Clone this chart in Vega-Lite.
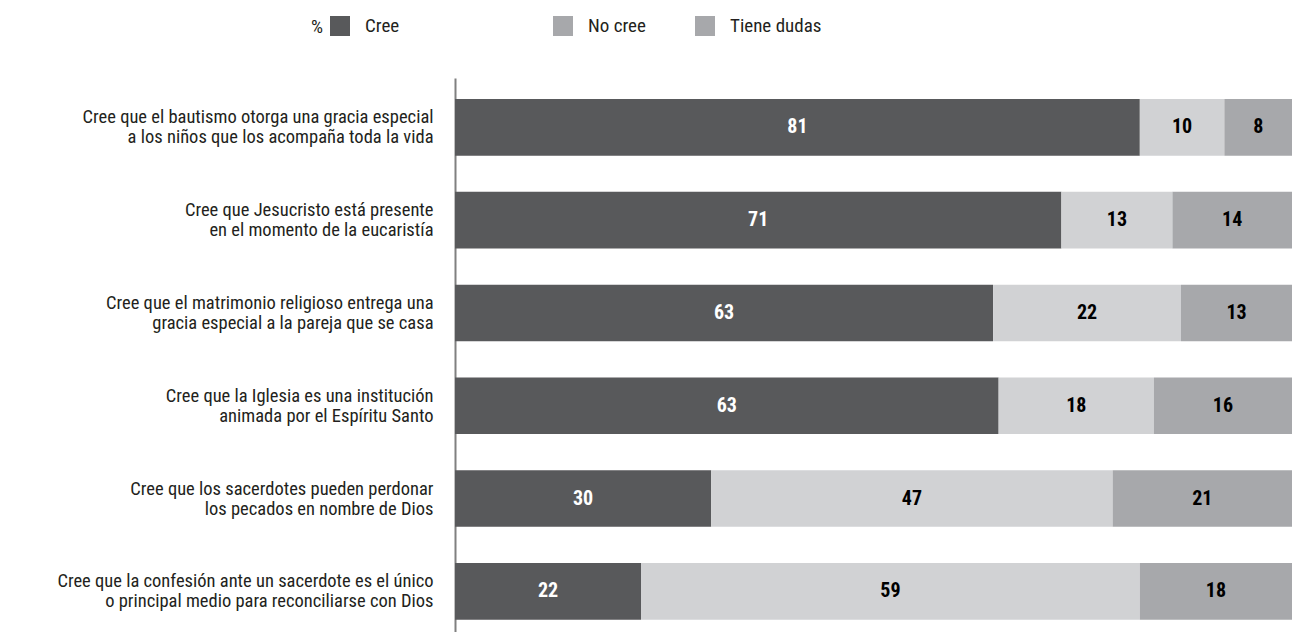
{
  "$schema": "https://vega.github.io/schema/vega-lite/v6.json",
  "autosize": {"type": "none"},
  "width": 837,
  "height": 554,
  "padding": {"left": 455, "top": 78, "right": 11, "bottom": 0},
  "background": "white",
  "config": {"view": {"stroke": null}, "font": "'Roboto Condensed', 'DejaVu Sans Condensed', 'Liberation Sans Narrow', sans-serif"},
  "data": {"values": [
    {"pregunta": "Cree que el bautismo otorga una gracia especial|a los niños que los acompaña toda la vida", "q": 1, "tipo": "Cree", "orden": 1, "valor": 81},
    {"pregunta": "Cree que el bautismo otorga una gracia especial|a los niños que los acompaña toda la vida", "q": 1, "tipo": "No cree", "orden": 2, "valor": 10},
    {"pregunta": "Cree que el bautismo otorga una gracia especial|a los niños que los acompaña toda la vida", "q": 1, "tipo": "Tiene dudas", "orden": 3, "valor": 8},
    {"pregunta": "Cree que Jesucristo está presente|en el momento de la eucaristía", "q": 2, "tipo": "Cree", "orden": 1, "valor": 71},
    {"pregunta": "Cree que Jesucristo está presente|en el momento de la eucaristía", "q": 2, "tipo": "No cree", "orden": 2, "valor": 13},
    {"pregunta": "Cree que Jesucristo está presente|en el momento de la eucaristía", "q": 2, "tipo": "Tiene dudas", "orden": 3, "valor": 14},
    {"pregunta": "Cree que el matrimonio religioso entrega una|gracia especial a la pareja que se casa", "q": 3, "tipo": "Cree", "orden": 1, "valor": 63},
    {"pregunta": "Cree que el matrimonio religioso entrega una|gracia especial a la pareja que se casa", "q": 3, "tipo": "No cree", "orden": 2, "valor": 22},
    {"pregunta": "Cree que el matrimonio religioso entrega una|gracia especial a la pareja que se casa", "q": 3, "tipo": "Tiene dudas", "orden": 3, "valor": 13},
    {"pregunta": "Cree que la Iglesia es una institución|animada por el Espíritu Santo", "q": 4, "tipo": "Cree", "orden": 1, "valor": 63},
    {"pregunta": "Cree que la Iglesia es una institución|animada por el Espíritu Santo", "q": 4, "tipo": "No cree", "orden": 2, "valor": 18},
    {"pregunta": "Cree que la Iglesia es una institución|animada por el Espíritu Santo", "q": 4, "tipo": "Tiene dudas", "orden": 3, "valor": 16},
    {"pregunta": "Cree que los sacerdotes pueden perdonar|los pecados en nombre de Dios", "q": 5, "tipo": "Cree", "orden": 1, "valor": 30},
    {"pregunta": "Cree que los sacerdotes pueden perdonar|los pecados en nombre de Dios", "q": 5, "tipo": "No cree", "orden": 2, "valor": 47},
    {"pregunta": "Cree que los sacerdotes pueden perdonar|los pecados en nombre de Dios", "q": 5, "tipo": "Tiene dudas", "orden": 3, "valor": 21},
    {"pregunta": "Cree que la confesión ante un sacerdote es el único|o principal medio para reconciliarse con Dios", "q": 6, "tipo": "Cree", "orden": 1, "valor": 22},
    {"pregunta": "Cree que la confesión ante un sacerdote es el único|o principal medio para reconciliarse con Dios", "q": 6, "tipo": "No cree", "orden": 2, "valor": 59},
    {"pregunta": "Cree que la confesión ante un sacerdote es el único|o principal medio para reconciliarse con Dios", "q": 6, "tipo": "Tiene dudas", "orden": 3, "valor": 18}
  ]},
  "transform": [
    {"stack": "valor", "groupby": ["pregunta"], "sort": [{"field": "orden"}], "as": ["v0", "v1"], "offset": "normalize"},
    {"calculate": "(datum.v0 + datum.v1) / 2", "as": "mid"}
  ],
  "encoding": {
    "y": {
      "field": "pregunta", "type": "nominal", "sort": {"field": "q"}, "title": null,
      "scale": {"paddingInner": 0.39, "paddingOuter": 0.18, "align": 0.63},
      "axis": {
        "labelExpr": "split(datum.label, '|')",
        "labelFontSize": 18.5, "labelColor": "#231f20", "labelPadding": 22,
        "labelLineHeight": 20, "labelLimit": 500, "labelOffset": -10,
        "ticks": false, "grid": false,
        "domainColor": "#808080", "domainWidth": 2
      }
    }
  },
  "layer": [
    {
      "mark": {"type": "bar"},
      "encoding": {
        "x": {"field": "v0", "type": "quantitative", "scale": {"domain": [0, 1]}, "axis": null},
        "x2": {"field": "v1"},
        "color": {
          "field": "tipo", "type": "nominal",
          "scale": {"domain": ["Cree", "No cree", "Tiene dudas"], "range": ["#58595b", "#d1d2d4", "#a7a8ab"]},
          "legend": {
            "orient": "none", "direction": "horizontal", "legendX": -144, "legendY": -62,
            "title": "%", "titleOrient": "left", "titleAngle": 0, "titleFontSize": 19, "titleFontWeight": "normal", "titleColor": "#231f20", "titlePadding": 6, "titleBaseline": "middle", "titleAnchor": "middle",
            "symbolType": "square", "symbolSize": 100, "symbolOpacity": 1,
            "labelFontSize": 19, "labelColor": "#231f20", "labelOffset": 15,
            "labelExpr": "datum.label == 'Cree' ? 'Cree\u00a0\u00a0\u00a0\u00a0\u00a0\u00a0\u00a0\u00a0\u00a0\u00a0\u00a0\u00a0\u00a0\u00a0\u00a0\u00a0\u00a0\u00a0\u00a0\u00a0\u00a0\u00a0\u00a0\u00a0\u200b' : datum.label",
            "gridAlign": "none", "columnPadding": 34,
            "encode": {
              "symbols": {"update": {"stroke": {"signal": "datum.value === 'No cree' ? '#a7a8ab' : scale('color', datum.value)"}, "strokeWidth": {"value": 10}}},
              "title": {"update": {"dy": {"value": -7}, "fontSize": {"value": 19}}}
            }
          }
        }
      }
    },
    {
      "mark": {"type": "text", "fontSize": 20, "fontWeight": "bold"},
      "encoding": {
        "x": {"field": "mid", "type": "quantitative"},
        "text": {"field": "valor", "type": "quantitative"},
        "color": {
          "condition": {"test": "datum.tipo === 'Cree'", "value": "#ffffff"},
          "value": "#000000"
        }
      }
    }
  ]
}
